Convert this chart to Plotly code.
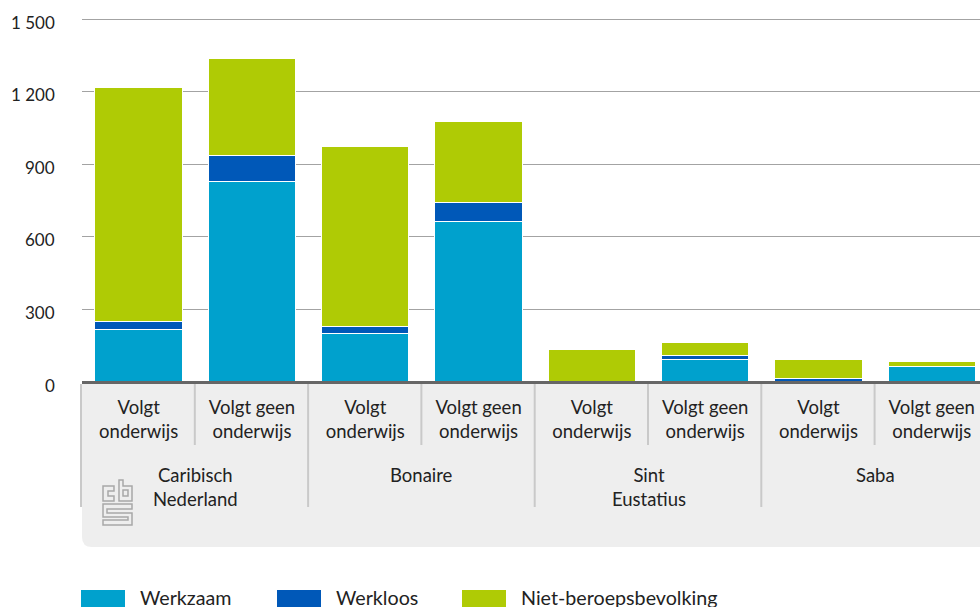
import plotly.graph_objects as go

groups = ["Caribisch<br>Nederland", "Bonaire", "Sint<br>Eustatius", "Saba"]
subcats = ["Volgt<br>onderwijs", "Volgt geen<br>onderwijs"] * 4
werkzaam = [219, 830, 202, 665, 0, 91, 3, 63]
werkloos = [33, 108, 29, 75, 0, 20, 12, 0]
niet_beroeps = [963, 397, 744, 338, 134, 52, 78, 21]
series_names = ["Werkzaam", "Werkloos", "Niet-beroepsbevolking"]
colors = ["#00a1cd", "#0058b8", "#afcb05"]
y_ticks = [0, 300, 600, 900, 1200, 1500]
y_labels = ["0", "300", "600", "900", "1 200", "1 500"]

W, H = 980, 607
L, T, B = 82, 16, 382
CAT = 113.3
FONT = "Lato"
TXT = "#222222"
xs = list(range(8))
xmax = (W - L) / CAT - 0.5
ymax = 1500 * (B - T) / 363

def px(x):
    return (x - L) / (W - L)
def py(y):
    return (B - y) / (B - T)

fig = go.Figure()
for name, vals, c in zip(series_names, [werkzaam, werkloos, niet_beroeps], colors):
    fig.add_bar(x=xs, y=vals, name=name, marker=dict(color=c, line=dict(color="white", width=1)),
                showlegend=False)

shapes = []
def rect(x0, y0, x1, y1, color, layer="below"):
    shapes.append(dict(type="rect", xref="paper", yref="paper", x0=px(x0), x1=px(x1), y0=py(y0), y1=py(y1),
                       fillcolor=color, line_width=0, layer=layer))
def vline(x, y0, y1):
    shapes.append(dict(type="line", xref="paper", yref="paper", x0=px(x), x1=px(x), y0=py(y0), y1=py(y1),
                       line=dict(color="#c9c9c9", width=2), layer="below"))
def path(points):
    d = "M" + " L".join(f"{px(a):.5f},{py(b):.5f}" for a, b in points) + " Z"
    shapes.append(dict(type="path", xref="paper", yref="paper", path=d, line=dict(color="#a8a8a8", width=1.5), layer="above"))

# grey label panel with rounded lower-left corner
r = 10
d = (f"M{px(82):.5f},{py(384):.5f} L{px(980):.5f},{py(384):.5f} L{px(980):.5f},{py(547):.5f} "
     f"L{px(82+r):.5f},{py(547):.5f} Q{px(82):.5f},{py(547):.5f} {px(82):.5f},{py(547-r):.5f} Z")
shapes.append(dict(type="path", xref="paper", yref="paper", path=d, fillcolor="#eeeeee", line_width=0, layer="below"))

vline(81, 384, 507)
for i in range(1, 8):
    x = L + i * CAT - 0.5
    vline(x, 384, 507 if i % 2 == 0 else 445)

# baseline on top of the bars
shapes.append(dict(type="line", xref="paper", yref="paper", x0=0, x1=1, y0=py(382.5), y1=py(382.5),
                   line=dict(color="#666666", width=3), layer="above"))

# logo
path([(114, 491), (108, 491), (108, 496), (114, 496), (114, 501), (103, 501), (103, 486), (114, 486)])
path([(119, 480), (123, 480), (123, 486), (132, 486), (132, 501), (119, 501)])
path([(123, 490), (128, 490), (128, 496), (123, 496)])
path([(103, 504), (132, 504), (132, 509), (107, 509), (107, 513), (132, 513), (132, 525), (103, 525),
      (103, 520), (128, 520), (128, 517), (103, 517)])

anns = []
for v, lab in zip(y_ticks, y_labels):
    anns.append(dict(x=px(57), y=v, xref="paper", yref="y", yshift=-3, text=lab, showarrow=False,
                     xanchor="right", yanchor="middle", font=dict(family=FONT, size=17, color=TXT)))
for i, g in enumerate(groups):
    anns.append(dict(x=px(L + (2 * i + 1) * CAT), y=py(462), xref="paper", yref="paper", text=g, showarrow=False,
                     xanchor="center", yanchor="top", font=dict(family=FONT, size=18.5, color=TXT), align="center"))
for xpos, sw, name in zip([138, 334, 519], [81, 277, 462], series_names):
    rect(sw, 590, sw + 44, 607, colors[series_names.index(name)])
    anns.append(dict(x=px(xpos), y=py(597.5), xref="paper", yref="paper", text=name, showarrow=False,
                     xanchor="left", yanchor="middle", font=dict(family=FONT, size=19.7, color=TXT)))

fig.update_layout(
    width=W, height=H, autosize=False, barmode="stack", bargap=0.228,
    margin=dict(l=L, r=0, t=T, b=H - B, pad=0),
    paper_bgcolor="white", plot_bgcolor="white",
    shapes=shapes, annotations=anns,
    font=dict(family=FONT, size=18.5, color=TXT),
    xaxis=dict(range=[-0.5, xmax], tickvals=xs, ticktext=subcats, showgrid=False, zeroline=False,
               showline=False, ticks="", ticklabelstandoff=12, tickangle=0),
    yaxis=dict(range=[0, ymax], tickvals=y_ticks, ticktext=y_labels, gridcolor="#a3a3a3", gridwidth=1,
               zeroline=False, ticks="", showticklabels=False),
)
fig.write_html("out.html", config=dict(displayModeBar=False),
               post_script="document.body.style.margin='0';document.documentElement.style.overflow='hidden';")
